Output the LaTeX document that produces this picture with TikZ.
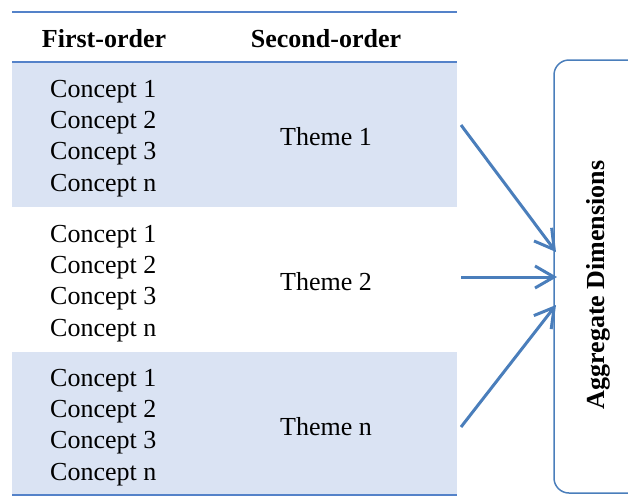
\documentclass[tikz,border=0pt]{standalone}
\usepackage{fontspec}
\setmainfont{Liberation Serif}
\usetikzlibrary{arrows.meta}
\definecolor{band}{RGB}{218,227,243}
\definecolor{rule}{RGB}{84,130,201}
\definecolor{arr}{RGB}{74,126,187}
\begin{document}
\begin{tikzpicture}[x=1pt,y=-1pt,
  txt/.style={font=\fontsize{26}{31.2}\selectfont, inner sep=0pt},
  hdr/.style={txt, font=\fontsize{26}{31}\selectfont\bfseries},
  concepts/.style={txt, align=left, anchor=west},
  theme/.style={txt},
  hrule/.style={draw=rule, line width=2.8pt},
  conn/.style={draw=arr, line width=3pt, -{Straight Barb[length=19pt,width=22pt,line width=3pt]}}
]
\useasboundingbox (0,0) rectangle (628,498);
% bands
\fill[band] (12,63) rectangle (457,207);
\fill[band] (12,352) rectangle (457,495);
% rules
\draw[hrule] (12,12) -- (457,12);
\draw[hrule] (12,62) -- (457,62);
\draw[hrule] (12,495) -- (457,495);
% headers
\node[hdr] (h1) at (104,39) {First-order};
\node[hdr] (h2) at (326,39) {Second-order};
% concepts
\node[concepts] (c1) at (50,138.5) {Concept 1\\Concept 2\\Concept 3\\Concept n};
\node[concepts] (c2) at (50,283.5) {Concept 1\\Concept 2\\Concept 3\\Concept n};
\node[concepts] (c3) at (50,427.5) {Concept 1\\Concept 2\\Concept 3\\Concept n};
% themes
\node[theme] (t1) at (326,137) {Theme 1};
\node[theme] (t2) at (326,282) {Theme 2};
\node[theme] (t3) at (326,427) {Theme n};
% aggregate box
\draw[draw=arr, line width=1.5pt, rounded corners=15pt] (660,60) -- (554,60) -- (554,493) -- (660,493);
\node[hdr, rotate=90] (agg) at (598,285) {Aggregate Dimensions};
% arrow endpoints
\coordinate (s1) at (461,125);
\coordinate (s2) at (461,277);
\coordinate (s3) at (461,427);
\coordinate (e1) at (556,252);
\coordinate (e2) at (557,277);
\coordinate (e3) at (556,305);
\draw[conn] (s1) -- (e1);
\draw[conn] (s2) -- (e2);
\draw[conn] (s3) -- (e3);
\end{tikzpicture}
\end{document}
